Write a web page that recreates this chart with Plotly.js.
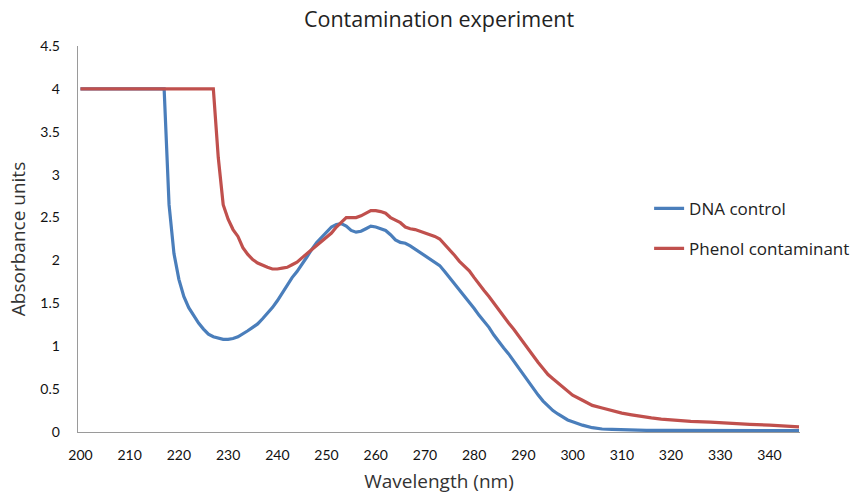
<!DOCTYPE html>
<html>
<head>
<meta charset="utf-8">
<script src="https://cdn.plot.ly/plotly-3.0.1.min.js"></script>
<style>body{margin:0;background:#fff}#chart{width:856px;height:495px}</style>
</head>
<body>
<div id="chart"></div>
<script>
const dnaX = [200,217,218,219,220,221,222,223,224,225,226,227,228,229,230,231,232,233,234,235,236,237,238,239,240,241,242,243,244,245,246,247,248,249,250,251,252,253,254,255,256,257,258,259,260,261,262,263,264,265,266,267,268,269,270,271,272,273,274,275,276,277,278,279,280,281,282,283,284,285,286,287,288,289,290,291,292,293,294,295,296,297,298,299,300,302,304,306,308,310,315,320,330,340,346];
const dnaY = [4,4,2.65,2.08,1.78,1.58,1.45,1.36,1.27,1.2,1.14,1.11,1.09,1.08,1.08,1.09,1.11,1.14,1.18,1.22,1.26,1.32,1.38,1.45,1.53,1.62,1.72,1.8,1.87,1.95,2.04,2.13,2.21,2.27,2.33,2.39,2.42,2.43,2.4,2.35,2.33,2.34,2.37,2.4,2.39,2.37,2.35,2.3,2.24,2.21,2.2,2.17,2.13,2.09,2.05,2.02,1.98,1.94,1.87,1.8,1.73,1.66,1.59,1.51,1.44,1.36,1.29,1.22,1.13,1.05,0.98,0.91,0.83,0.74,0.66,0.58,0.5,0.43,0.36,0.3,0.25,0.21,0.17,0.14,0.12,0.08,0.05,0.035,0.03,0.025,0.02,0.02,0.015,0.015,0.015];
const phenolX = [200,227,228,229,230,231,232,233,234,235,236,237,238,239,240,241,242,243,244,245,246,247,248,249,250,251,252,253,254,255,256,257,258,259,260,261,262,263,264,265,266,267,268,269,270,271,272,273,274,275,276,277,278,279,280,281,282,283,284,285,286,287,288,289,290,291,292,293,294,295,296,297,298,299,300,302,304,306,308,310,312,314,316,318,320,324,328,332,336,340,344,346];
const phenolY = [4,4,3.2,2.65,2.48,2.36,2.28,2.15,2.07,2.01,1.97,1.94,1.92,1.9,1.9,1.91,1.92,1.95,1.98,2.03,2.08,2.13,2.18,2.23,2.28,2.32,2.39,2.45,2.5,2.5,2.5,2.52,2.55,2.58,2.58,2.57,2.55,2.5,2.47,2.44,2.39,2.37,2.36,2.34,2.32,2.3,2.28,2.25,2.19,2.12,2.06,1.99,1.93,1.88,1.8,1.72,1.65,1.58,1.5,1.43,1.35,1.27,1.2,1.12,1.04,0.97,0.89,0.81,0.74,0.67,0.62,0.57,0.52,0.47,0.43,0.37,0.31,0.28,0.25,0.22,0.2,0.18,0.165,0.15,0.14,0.125,0.115,0.1,0.09,0.08,0.065,0.06];
const seriesNames = ["DNA control", "Phenol contaminant"];
const xTicks = [200,210,220,230,240,250,260,270,280,290,300,310,320,330,340];
const yTicks = [0,0.5,1,1.5,2,2.5,3,3.5,4,4.5];
const yTickText = ["0","0.5","1","1.5","2","2.5","3","3.5","4","4.5"];

const tickFont = {family: "Lato, 'Open Sans', sans-serif", size: 14, color: "#111"};
const mainFamily = "'Open Sans', Roboto, sans-serif";

const traces = [
  {x: dnaX, y: dnaY, name: seriesNames[0], type: "scatter", mode: "lines", legendgroup: "a",
   line: {color: "#4a7ebb", width: 3.2}},
  {x: phenolX, y: phenolY, name: seriesNames[1], type: "scatter", mode: "lines", legendgroup: "b",
   line: {color: "#c0504d", width: 3.2}}
];

const layout = {
  width: 856, height: 495,
  margin: {l: 78, r: 56, t: 46, b: 63, autoexpand: false},
  paper_bgcolor: "#fff", plot_bgcolor: "#fff",
  title: {text: "Contamination experiment", x: 0.5, xref: "paper", y: 0.96, yref: "container", yanchor: "middle",
          font: {family: mainFamily, size: 21.5, color: "#222"}},
  showlegend: true,
  legend: {x: 0.791, y: 0.625, xanchor: "left", yanchor: "top", traceorder: "grouped",
           tracegroupgap: 15, font: {family: mainFamily, size: 17, color: "#222"},
           bgcolor: "rgba(0,0,0,0)"},
  xaxis: {range: [199.5, 346.2], tickvals: xTicks, showgrid: false, zeroline: false,
          showline: true, linecolor: "#9a9a9a", linewidth: 1.3, ticks: "", ticklabelstandoff: 10,
          tickfont: tickFont,
          title: {text: "Wavelength (nm)", standoff: 12, font: {family: mainFamily, size: 19, color: "#333"}}},
  yaxis: {range: [0, 4.5], tickvals: yTicks, ticktext: yTickText, showgrid: false, zeroline: false,
          showline: true, linecolor: "#9a9a9a", linewidth: 1.3, ticks: "", ticklabelstandoff: 14,
          tickfont: tickFont,
          title: {text: "Absorbance units", standoff: 9, font: {family: mainFamily, size: 19, color: "#333"}}}
};

Plotly.newPlot("chart", traces, layout, {displayModeBar: false, staticPlot: true});
</script>
</body>
</html>
